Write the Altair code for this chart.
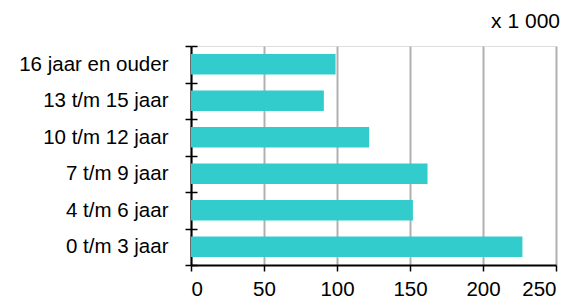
import altair as alt
import pandas as pd

categories = ["16 jaar en ouder", "13 t/m 15 jaar", "10 t/m 12 jaar",
              "7 t/m 9 jaar", "4 t/m 6 jaar", "0 t/m 3 jaar"]
values = [99, 91, 122, 162, 152, 227]
x_ticks = [0, 50, 100, 150, 200, 250]
unit_label = ["x 1 000"]

df = pd.DataFrame({"cat": categories, "val": values})
df_unit = pd.DataFrame({"t": unit_label})

FONT = "Liberation Sans"
W = 365

yscale = alt.Scale(domain=categories, paddingInner=0, paddingOuter=0)
xscale = alt.Scale(domain=[0, 250], nice=False)

xaxis = alt.Axis(values=x_ticks, grid=True, gridColor="#b0b0b0", gridWidth=2,
                 domainColor="black", domainWidth=2, tickColor="black",
                 tickWidth=1.5, tickSize=6, labelPadding=8,
                 labelFont=FONT, labelFontSize=20.5, labelColor="black")

bars = alt.Chart(df).mark_bar(color="#33CCCC", height=alt.RelativeBandSize(0.56)).encode(
    x=alt.X("val:Q", scale=xscale, title=None, axis=xaxis),
    y=alt.Y("cat:N", scale=yscale, sort=categories, title=None,
            axis=alt.Axis(orient="left", tickBand="extent", tickSize=6, tickWidth=1.5,
                          tickColor="black", domainColor="black", domainWidth=2,
                          labelPadding=17, labelFont=FONT, labelFontSize=20.5,
                          labelColor="black", grid=False)),
)

ticks_right = alt.Chart(df).mark_bar(opacity=0, height=alt.RelativeBandSize(0.56)).encode(
    x=alt.X("val:Q", scale=xscale, title=None, axis=xaxis),
    y=alt.Y("cat:N", scale=yscale, sort=categories, title=None,
            axis=alt.Axis(orient="right", offset=-W, tickBand="extent", tickSize=6,
                          tickWidth=1.5, tickColor="black", domain=False,
                          labels=False, grid=False)),
)

unit = alt.Chart(df_unit).mark_text(align="right", baseline="alphabetic", fontSize=21,
                                    font=FONT, color="black").encode(
    text="t:N", x=alt.value(W + 4), y=alt.value(-18)
)

chart = alt.layer(bars, ticks_right, unit).resolve_axis(y="independent").properties(
    width=W,
    height=219,
    autosize=alt.AutoSizeParams(type="none"),
    padding={"left": 183, "top": 38, "right": 12, "bottom": 34},
).configure_view(stroke="#808080", strokeWidth=2).configure(background="white")

chart.save("out.html", embed_options={"renderer": "svg", "actions": False})
